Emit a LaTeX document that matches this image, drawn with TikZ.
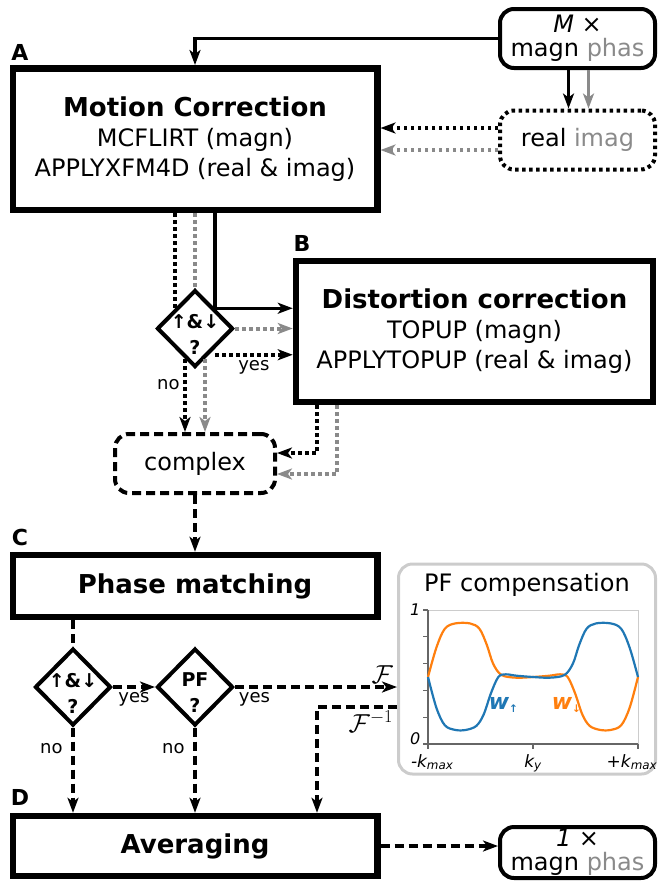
\documentclass[tikz,border=0pt]{standalone}
\usepackage{fix-cm}
\usepackage{fontspec}
\setmainfont{DejaVu Sans}
\usepackage{tikz}
\usetikzlibrary{arrows.meta, positioning, calc, shapes}
\definecolor{phasgray}{HTML}{8A8A8A}
\definecolor{wblue}{HTML}{1F77B4}
\definecolor{worange}{HTML}{FF7F0E}
\definecolor{panelgray}{HTML}{CCCCCC}
\definecolor{axisgray}{HTML}{666666}

\begin{document}
\begin{tikzpicture}[x=1pt, y=-1pt,
    stepbox/.style={draw, line width=6.5pt, inner sep=0pt, align=center, font=\fontsize{24}{30}\selectfont},
    databox/.style={draw, line width=4pt, rounded corners=14pt, inner sep=0pt, minimum width=155pt, minimum height=59pt, align=center, font=\fontsize{24}{24}\selectfont},
    decision/.style={diamond, draw, line width=4pt, minimum width=76pt, minimum height=77pt, inner sep=0pt},
    dectext/.style={font=\fontsize{19}{26}\selectfont\bfseries, align=center, yshift=-6pt},
    paneltag/.style={font=\fontsize{22}{22}\selectfont\bfseries},
    notetext/.style={font=\fontsize{18}{18}\selectfont},
    fsym/.style={font=\fontsize{26}{26}\selectfont},
    arrowed/.style={-{Stealth[length=15pt, width=11pt, inset=4pt]}},
    fullline/.style={line width=3.5pt},
    dotline/.style={line width=4pt, dash pattern=on 3.5pt off 3.5pt},
    dashline/.style={line width=4pt, dash pattern=on 9pt off 5pt}]

    \useasboundingbox (0,0) rectangle (658,881);

    % A: motion correction
    \node[paneltag] (la) at (20,52) {A};
    \node[stepbox, minimum width=364.5pt, minimum height=141.5pt] (mc) at (195,139)
        {{\fontsize{26}{30}\selectfont\bfseries Motion Correction}\\MCFLIRT (magn)\\APPLYXFM4D (real \& imag)};
    \node[databox] (mx) at (577.5,38.5) {\textit{M} ×\\magn \textcolor{phasgray}{phas}};
    \node[databox, dotline] (ri) at (577.5,140) {real \textcolor{phasgray}{imag}};

    % B: distortion correction
    \node[decision, label={[dectext]center:↑\&↓\\?}] (d1) at (195,328.5) {};
    \node[paneltag] (lb) at (302,243) {B};
    \node[stepbox, minimum width=357pt, minimum height=141pt] (dc) at (474.5,331.5)
        {{\fontsize{26}{30}\selectfont\bfseries Distortion correction}\\TOPUP (magn)\\APPLYTOPUP (real \& imag)};
    \node[databox, dashline, minimum width=160pt] (cx) at (195,463.5) {complex};

    % C: phase matching
    \node[paneltag] (lc) at (20,537) {C};
    \node[stepbox, minimum width=364.5pt, minimum height=62pt, font=\fontsize{26}{30}\selectfont\bfseries] (pm) at (195,586) {Phase matching};
    \node[decision, label={[dectext]center:↑\&↓\\?}] (d2) at (73,687) {};
    \node[decision, label={[dectext]center:PF\\?}] (d3) at (195,687) {};
    \node[draw=panelgray, line width=3pt, rounded corners=14pt, minimum width=257pt, minimum height=210pt, inner sep=0pt] (pf) at (527,669) {};
    \node[font=\fontsize{24}{24}\selectfont] (pft) at (527,585) {PF compensation};

    % D: averaging
    \node[paneltag] (ld) at (20,797) {D};
    \node[stepbox, minimum width=364.5pt, minimum height=60pt, font=\fontsize{26}{30}\selectfont\bfseries] (av) at (195,846) {Averaging};
    \node[databox, minimum height=51pt] (one) at (577.5,852.5) {\textit{1} ×\\magn \textcolor{phasgray}{phas}};

    % connectors
    \draw[fullline, arrowed] (mx.west) -| (mc.north);
    \draw[fullline, arrowed] ([xshift=-9pt]mx.south) -- ([xshift=-9pt]ri.north);
    \draw[fullline, arrowed, phasgray] ([xshift=11pt]mx.south) -- ([xshift=11pt]ri.north);
    \draw[dotline, arrowed] ([yshift=12pt]ri.west) -- ([yshift=12pt]ri.west -| mc.east);
    \draw[dotline, arrowed, phasgray] ([yshift=-10pt]ri.west) -- ([yshift=-10pt]ri.west -| mc.east);

    \draw[dotline] (d1.north west |- mc.south) -- (d1.north west);
    \draw[dotline, phasgray] (d1.north |- mc.south) -- (d1.north);
    \draw[fullline, arrowed] (d1.north east |- mc.south) -- (d1.north east) -- (d1.north east -| dc.west);
    \draw[dotline, arrowed, phasgray] (d1.east) -- (d1.east -| dc.west);
    \draw[dotline, arrowed] ([yshift=-6pt]d1.south east) -- ([yshift=-6pt]d1.south east -| dc.west)
        node[midway, below, notetext] {yes};
    \draw[dotline, arrowed] ([xshift=-10pt, yshift=10pt]d1.south) coordinate (nb) -- (nb |- cx.north)
        node[pos=0.35, left, notetext] {no};
    \draw[dotline, arrowed, phasgray] ([xshift=10pt, yshift=10pt]d1.south) coordinate (gb) -- (gb |- cx.north);
    \draw[dotline, arrowed] ([xshift=24pt]dc.south west) |- ([yshift=10.5pt]cx.east);
    \draw[dotline, arrowed, phasgray] ([xshift=44pt]dc.south west) |- ([yshift=-10.5pt]cx.east);

    \draw[dashline, arrowed] (cx.south) -- (pm.north);
    \draw[dashline] (d2.north |- pm.south) -- (d2.north);
    \draw[dashline, arrowed] (d2.east) -- (d3.west) node[midway, below, notetext] {yes};
    \draw[dashline, arrowed] (d3.east) -- (d3.east -| pf.west)
        node[pos=0.12, below, notetext] {yes}
        node[pos=1, above left, fsym, inner sep=2pt] {$\mathcal{F}$};
    \coordinate (finv) at (317,707);
    \draw[dashline, arrowed] (pf.west |- finv) -- node[pos=0, below left, fsym, inner sep=2pt] {$\mathcal{F}^{-1}$} (finv) -- (finv |- av.north);
    \draw[dashline, arrowed] (d2.south) -- (d2.south |- av.north) node[pos=0.25, left, notetext, xshift=-5pt] {no};
    \draw[dashline, arrowed] (d3.south) -- (av.north) node[pos=0.25, left, notetext, xshift=-5pt] {no};
    \draw[dashline, arrowed] (av.east) -- (av.east -| one.west);

    % PF weights
    \begin{scope}[shift={(428,744)}, x=210pt, y=134pt]
        \draw[panelgray, line width=1pt] (0,1) -- (1,1) -- (1,0);
        \draw[axisgray, line width=1.2pt] (0,1) -- (0,0) -- (1,0);
        \foreach \v in {0,0.2,...,1.01} \draw[axisgray, line width=1.2pt] (0,\v) -- (-0.025,\v);
        \foreach \t in {0,0.5,1} \draw[axisgray, line width=1.2pt] (\t,0) -- (\t,-0.035);
        \draw[worange, line width=2.2pt] plot[smooth, tension=0.55] coordinates {
            (0,0.5) (0.04,0.72) (0.08,0.86) (0.13,0.9) (0.2,0.9) (0.245,0.86) (0.28,0.74)
            (0.31,0.6) (0.35,0.515) (0.42,0.495) (0.5,0.5) (0.58,0.51) (0.63,0.52) (0.665,0.5)
            (0.7,0.38) (0.735,0.22) (0.77,0.135) (0.82,0.105) (0.87,0.105) (0.92,0.14)
            (0.96,0.27) (1,0.5)};
        \draw[wblue, line width=2.2pt] plot[smooth, tension=0.55] coordinates {
            (0,0.5) (0.04,0.27) (0.08,0.14) (0.13,0.105) (0.18,0.105) (0.23,0.135) (0.265,0.22)
            (0.3,0.38) (0.335,0.5) (0.37,0.52) (0.42,0.51) (0.5,0.5) (0.58,0.495) (0.65,0.515)
            (0.69,0.6) (0.72,0.74) (0.755,0.86) (0.8,0.9) (0.87,0.9) (0.92,0.86) (0.96,0.72) (1,0.5)};
        \node[left, font=\fontsize{16}{16}\selectfont\itshape] (y1) at (-0.02,1) {1};
        \node[left, font=\fontsize{16}{16}\selectfont\itshape] (y0) at (-0.02,0.04) {0};
        \node[below, font=\fontsize{17}{17}\selectfont\itshape] (kl) at (0.02,-0.05) {-k\textsubscript{max}};
        \node[below, font=\fontsize{17}{17}\selectfont\itshape] (ky) at (0.5,-0.05) {k\textsubscript{y}};
        \node[below, xshift=-6pt, font=\fontsize{17}{17}\selectfont\itshape] (kr) at (1,-0.05) {+k\textsubscript{max}};
        \node[text=wblue, font=\fontsize{22}{22}\selectfont\bfseries\itshape] (wup) at (0.36,0.29) {w{\fontsize{15}{15}\selectfont\textsubscript{↑}}};
        \node[text=worange, font=\fontsize{22}{22}\selectfont\bfseries\itshape] (wdn) at (0.66,0.29) {w{\fontsize{15}{15}\selectfont\textsubscript{↓}}};
    \end{scope}
\end{tikzpicture}
\end{document}
